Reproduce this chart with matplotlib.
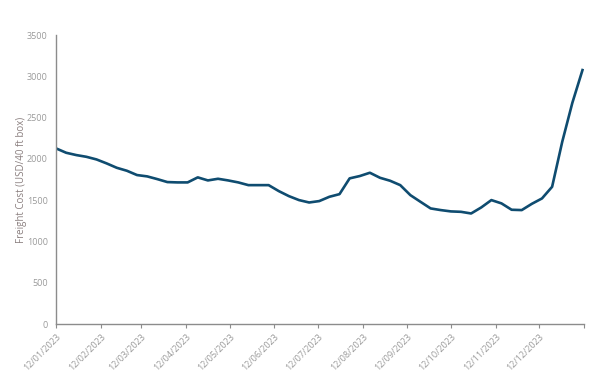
import numpy as np
import pandas as pd
import matplotlib
matplotlib.use('Agg')
import matplotlib.pyplot as plt
import matplotlib.dates as mdates

plt.rcParams['font.family'] = ['Open Sans', 'DejaVu Sans']

# weekly freight cost, 12 Jan 2023 - 11 Jan 2024
dates = pd.date_range('2023-01-12', periods=53, freq='7D')
cost = [2128, 2075, 2047, 2026, 1994, 1946, 1893, 1857, 1805, 1789,
        1756, 1720, 1716, 1716, 1777, 1740, 1760, 1740, 1716, 1683,
        1683, 1683, 1611, 1550, 1502, 1473, 1490, 1542, 1574, 1765,
        1793, 1833, 1772, 1736, 1683, 1562, 1481, 1401, 1381, 1365,
        1360, 1340, 1413, 1502, 1462, 1385, 1381, 1457, 1522, 1663,
        2208, 2680, 3076]

tick_dates = pd.date_range('2023-01-12', periods=13, freq=pd.DateOffset(months=1))
tick_labels = [d.strftime('%d/%m/%Y') for d in tick_dates[:-1]] + ['']
yticks = [0, 500, 1000, 1500, 2000, 2500, 3000, 3500]

fig = plt.figure(figsize=(6.11, 3.85), dpi=100)
ax = fig.add_axes([0.0917, 0.158, 0.864, 0.751])

ax.plot(dates, cost, color='#0f4c70', lw=1.9, solid_joinstyle='round')

ax.set_xlim(dates[0], tick_dates[-1])
ax.set_ylim(0, 3500)
ax.set_yticks(yticks)
ax.set_xticks(tick_dates)
ax.set_xticklabels(tick_labels, rotation=45, ha='right', rotation_mode='anchor')

grey = '#8c8c8c'
for s in ['top', 'right']:
    ax.spines[s].set_visible(False)
for s in ['left', 'bottom']:
    ax.spines[s].set_color(grey)
    ax.spines[s].set_linewidth(1.0)
ax.tick_params(axis='y', length=0, pad=6, labelsize=6.5, labelcolor='#9a9a9a')
ax.tick_params(axis='x', length=3, color=grey, pad=3, labelsize=6.5, labelcolor='#9a9a9a')
ax.set_ylabel('Freight Cost (USD/40 ft box)', fontsize=7, color='#8a7f7f', labelpad=0)

fig.savefig('out.png', dpi=100)
